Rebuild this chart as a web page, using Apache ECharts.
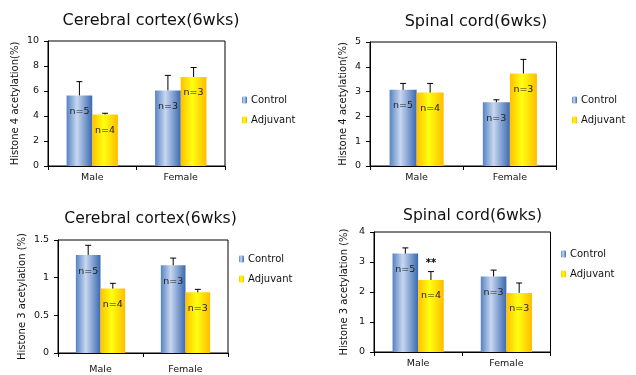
<!DOCTYPE html>
<html>
<head>
<meta charset="utf-8">
<script src="https://cdn.jsdelivr.net/npm/echarts@6/dist/echarts.min.js"></script>
<style>
html,body{margin:0;padding:0;background:#fff;}
#main{width:636px;height:375px;}
</style>
</head>
<body>
<div id="main"></div>
<script>
// ---- data ----
const categories = ['Male', 'Female'];
const seriesNames = ['Control', 'Adjuvant'];

const titles = ['Cerebral cortex(6wks)', 'Spinal cord(6wks)', 'Cerebral cortex(6wks)', 'Spinal cord(6wks)'];
const yNames = ['Histone 4 acetylation(%)', 'Histone 4 acetylation(%)', 'Histone 3 acetylation (%)', 'Histone 3 acetylation (%)'];
const yMax = [10, 5, 1.5, 4];
const yInterval = [2, 1, 0.5, 1];

// panel 1: H4, cerebral cortex
const p1Control = [5.65, 6.05];
const p1ControlErr = [6.75, 7.25];
const p1Adjuvant = [4.12, 7.12];
const p1AdjuvantErr = [4.22, 7.88];
// panel 2: H4, spinal cord
const p2Control = [3.07, 2.57];
const p2ControlErr = [3.33, 2.67];
const p2Adjuvant = [2.96, 3.73];
const p2AdjuvantErr = [3.33, 4.30];
// panel 3: H3, cerebral cortex
const p3Control = [1.30, 1.165];
const p3ControlErr = [1.43, 1.26];
const p3Adjuvant = [0.855, 0.805];
const p3AdjuvantErr = [0.925, 0.845];
// panel 4: H3, spinal cord
const p4Control = [3.28, 2.52];
const p4ControlErr = [3.47, 2.73];
const p4Adjuvant = [2.40, 1.97];
const p4AdjuvantErr = [2.68, 2.30];

const nControl = ['n=5', 'n=3'];
const nAdjuvant = ['n=4', 'n=3'];
const sigNone = ['', ''];
const sigP4Adjuvant = ['**', ''];

const panels = [
  {c: p1Control, ce: p1ControlErr, a: p1Adjuvant, ae: p1AdjuvantErr, cs: sigNone, as: sigNone},
  {c: p2Control, ce: p2ControlErr, a: p2Adjuvant, ae: p2AdjuvantErr, cs: sigNone, as: sigNone},
  {c: p3Control, ce: p3ControlErr, a: p3Adjuvant, ae: p3AdjuvantErr, cs: sigNone, as: sigNone},
  {c: p4Control, ce: p4ControlErr, a: p4Adjuvant, ae: p4AdjuvantErr, cs: sigNone, as: sigP4Adjuvant}
];

// ---- layout ----
const grids = [
  {left: 48, top: 41, width: 177, height: 125},
  {left: 370, top: 42, width: 186.5, height: 124},
  {left: 58, top: 240, width: 170, height: 117},
  {left: 374, top: 232, width: 176.5, height: 120}
];
const titlePos = [{x: 146, y: 8}, {x: 471, y: 9}, {x: 145.5, y: 206}, {x: 467.5, y: 203}];
const legendPos = [{x: 242, y: 95}, {x: 572, y: 95}, {x: 239, y: 254}, {x: 561, y: 249}];
const nameGaps = [28, 22, 31, 25];
const xLabelMargins = [7, 7, 12, 7];
const CAT_GAP = 0.42;
const FONT = '"DejaVu Sans", Verdana, sans-serif';

const ctrlColor = new echarts.graphic.LinearGradient(0, 0, 1, 0, [
  {offset: 0, color: '#5583c5'},
  {offset: 0.4, color: '#c8d7ef'},
  {offset: 1, color: '#3a69b1'}
]);
const adjColor = new echarts.graphic.LinearGradient(0, 0, 1, 0, [
  {offset: 0, color: '#ffc000'},
  {offset: 0.45, color: '#ffff10'},
  {offset: 1, color: '#ffbc00'}
]);

function errSeries(idx, vals, errs, sig, side) {
  return {
    type: 'custom',
    name: 'err' + idx + side,
    xAxisIndex: idx, yAxisIndex: idx,
    z: 5,
    silent: true,
    data: vals.map((v, i) => [i, v, errs[i]]),
    renderItem: function (params, api) {
      const i = api.value(0);
      const p = api.coord([i, api.value(1)]);
      const t = api.coord([i, api.value(2)]);
      const band = api.size([1, 0])[0];
      const bw = band * (1 - CAT_GAP) / 2;
      const x = p[0] + side * bw / 2;
      const children = [
        {type: 'line', shape: {x1: x, y1: p[1], x2: x, y2: t[1]}, style: {stroke: '#000', lineWidth: 1}},
        {type: 'line', shape: {x1: x - 3, y1: t[1], x2: x + 3, y2: t[1]}, style: {stroke: '#000', lineWidth: 1}}
      ];
      const s = sig[params.dataIndex];
      if (s) {
        children.push({type: 'text', x: x, y: t[1] - 8, style: {text: s, fill: '#000', font: 'bold 10px ' + FONT, align: 'center', verticalAlign: 'middle'}});
      }
      return {type: 'group', children: children};
    }
  };
}

const option = {
  backgroundColor: '#fff',
  animation: false,
  title: titles.map((t, i) => ({
    text: t, left: titlePos[i].x, top: titlePos[i].y, textAlign: 'center',
    textStyle: {fontFamily: FONT, fontWeight: 'normal', fontSize: i < 2 ? 16 : 15.6, color: '#111'}
  })),
  legend: legendPos.map((p) => ({
    data: seriesNames, orient: 'vertical', left: p.x, top: p.y,
    itemWidth: 5, itemHeight: 7, itemGap: 10, padding: 0,
    textStyle: {fontFamily: FONT, fontSize: 10, color: '#111', padding: [0, 0, 0, -1]}
  })),
  grid: grids.map(g => Object.assign({show: true, borderColor: '#000', borderWidth: 1, backgroundColor: 'transparent', containLabel: false}, g)),
  xAxis: grids.map((g, i) => ({
    type: 'category', gridIndex: i, data: categories,
    axisLine: {lineStyle: {color: '#000'}},
    axisTick: {show: true, length: 4, lineStyle: {color: '#000'}},
    axisLabel: {fontFamily: FONT, fontSize: 9.5, color: '#111', margin: xLabelMargins[i]}
  })),
  yAxis: grids.map((g, i) => ({
    type: 'value', gridIndex: i, min: 0, max: yMax[i], interval: yInterval[i],
    name: yNames[i], nameLocation: 'middle', nameGap: nameGaps[i],
    nameTextStyle: {fontFamily: FONT, fontSize: 10, color: '#111'},
    axisLine: {show: true, lineStyle: {color: '#000'}},
    axisTick: {show: true, length: 4, lineStyle: {color: '#000'}},
    splitLine: {show: false},
    axisLabel: {fontFamily: FONT, fontSize: 9.5, color: '#111', margin: 9}
  })),
  series: []
};

panels.forEach((p, i) => {
  option.series.push({
    type: 'bar', name: 'Control', xAxisIndex: i, yAxisIndex: i, data: p.c,
    barGap: 0, barCategoryGap: (CAT_GAP * 100) + '%',
    itemStyle: {color: ctrlColor},
    label: {show: true, position: 'insideTop', distance: 11, fontFamily: FONT, fontSize: 9.5, color: '#222',
      formatter: (q) => nControl[q.dataIndex]}
  });
  option.series.push({
    type: 'bar', name: 'Adjuvant', xAxisIndex: i, yAxisIndex: i, data: p.a,
    barGap: 0, barCategoryGap: (CAT_GAP * 100) + '%',
    itemStyle: {color: adjColor},
    label: {show: true, position: 'insideTop', distance: 11, fontFamily: FONT, fontSize: 9.5, color: '#222',
      formatter: (q) => nAdjuvant[q.dataIndex]}
  });
  option.series.push(errSeries(i, p.c, p.ce, p.cs, -1));
  option.series.push(errSeries(i, p.a, p.ae, p.as, 1));
});

const chart = echarts.init(document.getElementById('main'), null, {renderer: 'canvas'});
chart.setOption(option);
</script>
</body>
</html>
